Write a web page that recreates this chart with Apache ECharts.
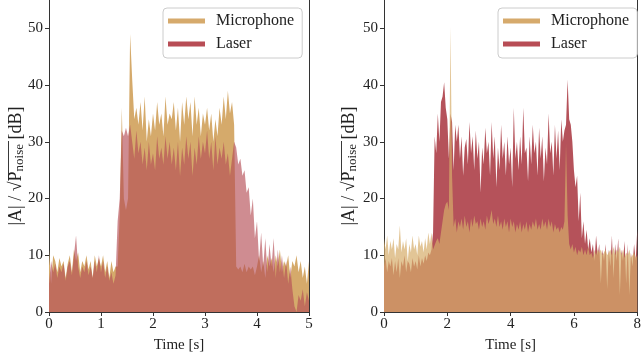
<!DOCTYPE html>
<html>
<head>
<meta charset="utf-8">
<script src="https://cdn.jsdelivr.net/npm/echarts@6/dist/echarts.min.js"></script>
<style>html,body{margin:0;padding:0;background:#fff}#c{width:644px;height:358px}</style>
</head>
<body>
<div id="c"></div>
<script>
// ---- data ----
var leftStep = 0.04;   // seconds between samples, left panel (0..5 s)
var rightStep = 0.05;  // seconds between samples, right panel (0..8 s)

var leftMic = [11,5,10,9,7,9.5,8,9,6,8.5,10,7,11,9,10.5,7,9,8,10,7.5,9,6,10,8,9.5,8,10,7,9,6,9,7,8,
  8,17,36,20,18,20,49,41,34,36,33,37,32,38,30,34,31,35,32,37,33,35,31,38,33,35,34,37,32,36,30,37,33,38,34,37,31,38,33,36,31,35,33,36,32,35,30,34,31,36,33,38,34,39,35,37,33,
  8,7.5,8,7,8.5,7,8,7.5,8,6.5,8,10,7,9,6,10,8,9.5,7,10,8,11,7,9,8,10,6,9,8,10,7,9,6,8,5,9];
var leftLaser = [5,9,7,8.5,6,8,7,8.5,5.5,8,9,6.5,10,13.5,8,6,8,7,9,6.5,8,6,9,7,10,7,9,6,8,5.5,7,5,6.5,
  16,20,32,31,32.5,31,33,30,27,32,28,30,26,29,25,30,26,28,25,31,27,29,26,31,27,30,26,29,25,30,24,29,26,31,27,30,24,29,26,31,27,30,28,32,27,30,25,31,26,29,27,30,26,28,24,27,30,
  29,26,27,24,25,21,22,17,20,13,16,9,14,8,13,7,12,8,13,6,11,7,10,6,9,5,8,4,1,0,3,2,4,1,3.5,2];

var rightMic = [13,11,13.5,10,12.5,11,13,9.5,12,11,15.3,10.5,12.5,11,13,9,12,10.5,13.5,11,12,10,13.5,11.5,12.5,10.5,13,11,14,12,14,11,
  11,12.5,13,12,14,16,18,19,19.5,18,50.3,24,15,16.5,14,16,15,16.5,14.5,17,15,16,14,16.5,15,17,15.5,16,14.5,16.5,15,16,14.5,17,15.5,16.5,18,15.5,16.5,15,17,15,16,14.5,16.5,15,16,14,
  16.5,15,16,14,15.5,14.5,16,14,15.5,14.5,16,14,15.5,14.5,16,15,16.5,14.5,15.5,14.5,16.5,15,16,14.5,16.5,15,16,14,15.5,14.5,15,14,15,14.5,16,29.7,17,12,11,12,
  10.5,11.5,10,11,10.5,11.5,10,11,10,11.5,10,10.5,9.5,11,10,11,10.5,11,10,10.5,11,10,10.5,11,10,11.5,10,11,10.5,11.5,10,11,9.5,10.5,10,11,9.5,10,10.5,9.5,10];
var rightLaser = [8,9.5,7,9,8,9.5,6.5,9,7,9.5,6,9,8,10,7,9,8.5,7,9.5,8,9,7.5,10,8,9.5,8.5,10,9,10.5,10,11,14,
  31,28,35,30,37,38,40.5,36,34,27,35,33.5,25,33,30,33,27,31,24,29,30.5,26,33.5,28,31,25,32,27,30,21,29,26,32.5,28,30,24,33.5,27,31,22,29,25,33,27,30,24,31,26,
  29,22,36,27,30,25,31,26,36,28,29,23,31,26,33,28,30,24,32.5,27,31,23,29,26,35,28,30,24,33,27,32,25,34,30,32,33,41,34,33,30,
  25,22,24,16,21,13,16,12,14.5,11,13,10.5,12,9,13.5,10,12,5,11,9,12,4,11,8,13.5,6,12,9,13,3,11,9,12.5,5,12,3,10.5,8,12,9,14.5];

var xTicksLeft = [0,1,2,3,4,5];
var xTicksRight = [0,2,4,6,8];
var yTicks = [0,10,20,30,40,50];
var seriesNames = ['Microphone','Laser'];

// ---- chart ----
function pairs(arr, step){ return arr.map(function(v,i){ return [+(i*step).toFixed(3), v]; }); }
var FONT = "'Liberation Serif', 'DejaVu Serif', serif";
var TXT = '#222';
var AX = '#333';

function xAxisCfg(gi, max, ticks){
  return {type:'value', gridIndex:gi, min:0, max:max,
    axisLine:{show:true, lineStyle:{color:AX, width:1}},
    axisTick:{show:true, inside:false, length:4, customValues:ticks, lineStyle:{color:AX}},
    axisLabel:{customValues:ticks, fontSize:15, fontFamily:FONT, color:TXT, margin:5},
    splitLine:{show:false},
    name:'Time [s]', nameLocation:'middle', nameGap:26,
    nameTextStyle:{fontSize:15, fontFamily:FONT, color:TXT}};
}
function yAxisCfg(gi){
  return {type:'value', gridIndex:gi, min:0, max:55,
    axisLine:{show:true, lineStyle:{color:AX, width:1}},
    axisTick:{show:true, length:4, customValues:yTicks, lineStyle:{color:AX}},
    axisLabel:{customValues:yTicks, fontSize:15, fontFamily:FONT, color:TXT, margin:6},
    splitLine:{show:false}};
}
function ySpine(gi){
  return {type:'value', gridIndex:gi, min:0, max:55, position:'right',
    axisLine:{show:true, lineStyle:{color:AX, width:1}},
    axisTick:{show:false}, axisLabel:{show:false}, splitLine:{show:false}};
}
function areaSeries(name, xi, yi, data, color, z){
  return {type:'line', name:name, xAxisIndex:xi, yAxisIndex:yi, data:data,
    showSymbol:false, symbol:'none', silent:true, animation:false, z:z,
    lineStyle:{width:0, opacity:0}, areaStyle:{color:color, opacity:1, origin:'start'}};
}
function legendCfg(left){
  return {left:left, top:8, orient:'vertical', icon:'rect', itemWidth:37, itemHeight:5, itemGap:5,
    padding:[4,8,5,5], borderColor:'#cccccc', borderWidth:1, borderRadius:4,
    backgroundColor:'rgba(255,255,255,0.8)', selectedMode:false,
    textStyle:{fontSize:16, fontFamily:FONT, color:TXT, padding:[0,0,0,6], lineHeight:18},
    data:[{name:seriesNames[0], itemStyle:{color:'#D6AA6C'}},
          {name:seriesNames[1], itemStyle:{color:'#B84D55'}}]};
}
function yLabel(cx, ovx){
  return [
    {type:'text', x:cx, y:166, rotation:Math.PI/2, silent:true,
     style:{text:'{a||A| / √}{a|P}{s|noise}{a| [dB]}', align:'center', verticalAlign:'middle', fill:TXT,
       rich:{a:{fontSize:18, fontFamily:FONT, fill:TXT},
             s:{fontSize:13, fontFamily:FONT, fill:TXT, padding:[7,0,0,0]}}}},
    {type:'line', silent:true, shape:{x1:ovx, y1:141, x2:ovx, y2:180}, style:{stroke:TXT, lineWidth:0.9}}
  ];
}

var chart = echarts.init(document.getElementById('c'), null, {renderer:'canvas'});
chart.setOption({
  animation:false,
  backgroundColor:'#ffffff',
  grid:[{left:49, top:0, width:260, height:312},
        {left:384, top:0, width:257, height:312}],
  xAxis:[xAxisCfg(0,5,xTicksLeft), xAxisCfg(1,8,xTicksRight)],
  yAxis:[yAxisCfg(0), yAxisCfg(1), ySpine(0), ySpine(1)],
  legend:[legendCfg(163), legendCfg(498)],
  series:[
    areaSeries(seriesNames[0], 0, 0, pairs(leftMic, leftStep), 'rgba(213,170,107,1)', 2),
    areaSeries(seriesNames[1], 0, 0, pairs(leftLaser, leftStep), 'rgba(181,78,86,0.65)', 3),
    areaSeries(seriesNames[1], 1, 1, pairs(rightLaser, rightStep), 'rgba(181,82,90,1)', 2),
    areaSeries(seriesNames[0], 1, 1, pairs(rightMic, rightStep), 'rgba(213,172,105,0.7)', 3)
  ],
  graphic: yLabel(16.5, 8.5).concat(yLabel(349.5, 341.5))
});
</script>
</body>
</html>
